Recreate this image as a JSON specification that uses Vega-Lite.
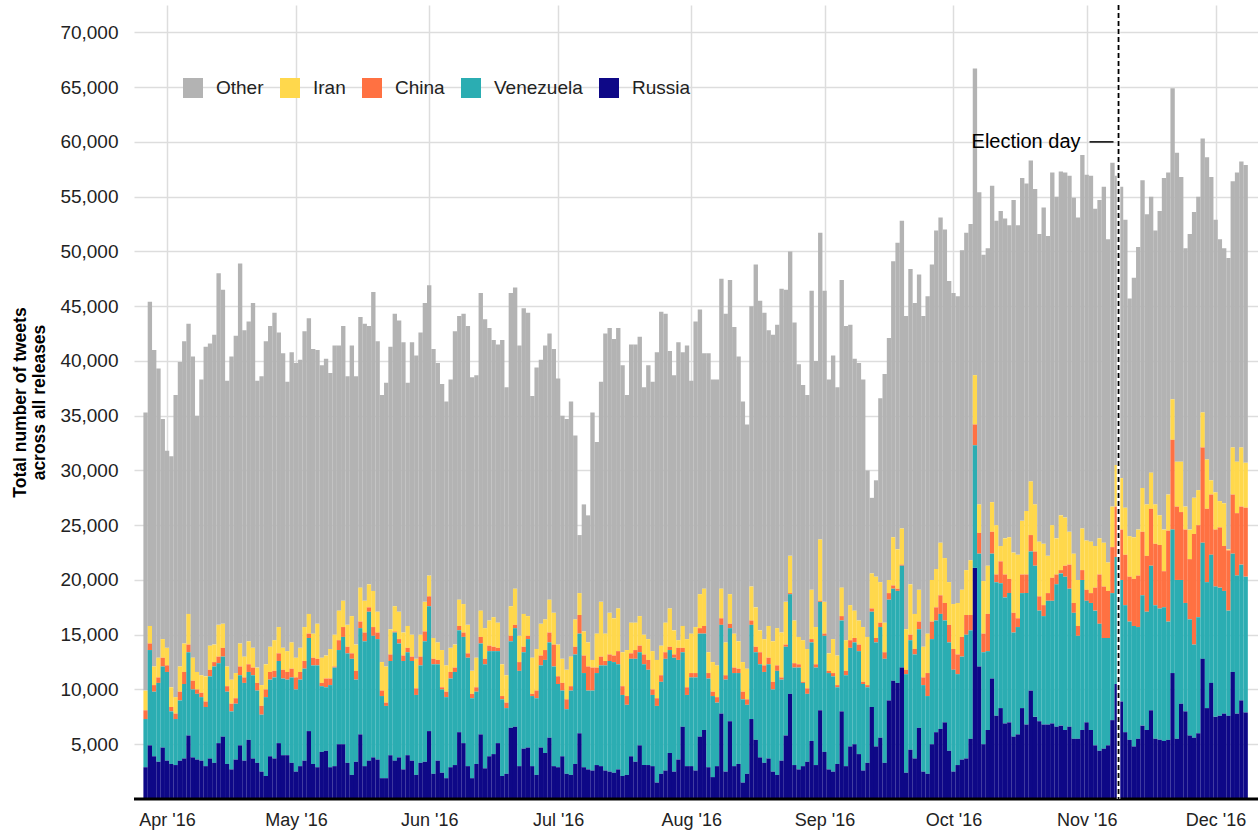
{
  "$schema": "https://vega.github.io/schema/vega-lite/v6.json",
  "width": 1124,
  "height": 794,
  "autosize": {"type": "none"},
  "padding": {"left": 134, "top": 5, "right": 0, "bottom": 36},
  "background": "white",
  "config": {
    "font": "Liberation Sans",
    "view": {"stroke": null}
  },
  "layer": [
    {
      "data": {"values": [
{"d":"2016-03-27","Russia":2900,"Venezuela":4400,"China":800,"Iran":1800,"Other":25400},
{"d":"2016-03-28","Russia":4900,"Venezuela":8700,"China":600,"Iran":1600,"Other":29600},
{"d":"2016-03-29","Russia":3900,"Venezuela":5900,"China":600,"Iran":1700,"Other":28900},
{"d":"2016-03-30","Russia":3400,"Venezuela":7200,"China":500,"Iran":1800,"Other":26400},
{"d":"2016-03-31","Russia":4700,"Venezuela":7400,"China":800,"Iran":1700,"Other":20100},
{"d":"2016-04-01","Russia":3500,"Venezuela":8100,"China":600,"Iran":1600,"Other":18000},
{"d":"2016-04-02","Russia":3200,"Venezuela":4800,"China":400,"Iran":1800,"Other":21100},
{"d":"2016-04-03","Russia":3100,"Venezuela":4200,"China":500,"Iran":1500,"Other":27600},
{"d":"2016-04-04","Russia":3500,"Venezuela":5500,"China":800,"Iran":2300,"Other":27800},
{"d":"2016-04-05","Russia":3700,"Venezuela":6800,"China":1100,"Iran":2600,"Other":27600},
{"d":"2016-04-06","Russia":5800,"Venezuela":7600,"China":700,"Iran":2800,"Other":26500},
{"d":"2016-04-07","Russia":3800,"Venezuela":6200,"China":800,"Iran":2100,"Other":27500},
{"d":"2016-04-08","Russia":3600,"Venezuela":6000,"China":400,"Iran":1600,"Other":23400},
{"d":"2016-04-09","Russia":3500,"Venezuela":5800,"China":400,"Iran":1600,"Other":27000},
{"d":"2016-04-10","Russia":3000,"Venezuela":5400,"China":500,"Iran":2300,"Other":30100},
{"d":"2016-04-11","Russia":3700,"Venezuela":7500,"China":600,"Iran":2200,"Other":27600},
{"d":"2016-04-12","Russia":3300,"Venezuela":8800,"China":400,"Iran":1600,"Other":28300},
{"d":"2016-04-13","Russia":5100,"Venezuela":7300,"China":600,"Iran":2900,"Other":32100},
{"d":"2016-04-14","Russia":5700,"Venezuela":7300,"China":800,"Iran":2200,"Other":30500},
{"d":"2016-04-15","Russia":3200,"Venezuela":6600,"China":500,"Iran":1800,"Other":26100},
{"d":"2016-04-16","Russia":2700,"Venezuela":5300,"China":700,"Iran":2200,"Other":29500},
{"d":"2016-04-17","Russia":3600,"Venezuela":5100,"China":500,"Iran":2300,"Other":30800},
{"d":"2016-04-18","Russia":4900,"Venezuela":6400,"China":800,"Iran":2100,"Other":34700},
{"d":"2016-04-19","Russia":3500,"Venezuela":7100,"China":500,"Iran":1900,"Other":29800},
{"d":"2016-04-20","Russia":5400,"Venezuela":6200,"China":700,"Iran":2100,"Other":29200},
{"d":"2016-04-21","Russia":3700,"Venezuela":7600,"China":700,"Iran":1800,"Other":31500},
{"d":"2016-04-22","Russia":3300,"Venezuela":6600,"China":700,"Iran":1400,"Other":26200},
{"d":"2016-04-23","Russia":2500,"Venezuela":5200,"China":800,"Iran":1900,"Other":28200},
{"d":"2016-04-24","Russia":2100,"Venezuela":7200,"China":700,"Iran":2300,"Other":29500},
{"d":"2016-04-25","Russia":3900,"Venezuela":7000,"China":700,"Iran":2300,"Other":29300},
{"d":"2016-04-26","Russia":3700,"Venezuela":7400,"China":600,"Iran":2800,"Other":29900},
{"d":"2016-04-27","Russia":5100,"Venezuela":7500,"China":700,"Iran":2400,"Other":26900},
{"d":"2016-04-28","Russia":4000,"Venezuela":7000,"China":800,"Iran":2000,"Other":26900},
{"d":"2016-04-29","Russia":4000,"Venezuela":6900,"China":700,"Iran":1900,"Other":24600},
{"d":"2016-04-30","Russia":3300,"Venezuela":7800,"China":800,"Iran":2400,"Other":26500},
{"d":"2016-05-01","Russia":2500,"Venezuela":7500,"China":1100,"Iran":1800,"Other":26900},
{"d":"2016-05-02","Russia":3000,"Venezuela":7900,"China":700,"Iran":2200,"Other":26300},
{"d":"2016-05-03","Russia":3500,"Venezuela":8400,"China":700,"Iran":3100,"Other":27000},
{"d":"2016-05-04","Russia":6200,"Venezuela":8500,"China":400,"Iran":1800,"Other":27000},
{"d":"2016-05-05","Russia":3200,"Venezuela":9000,"China":700,"Iran":2200,"Other":26000},
{"d":"2016-05-06","Russia":2900,"Venezuela":9300,"China":600,"Iran":3200,"Other":25000},
{"d":"2016-05-07","Russia":4300,"Venezuela":6000,"China":300,"Iran":2300,"Other":26700},
{"d":"2016-05-08","Russia":4400,"Venezuela":5800,"China":800,"Iran":2100,"Other":27100},
{"d":"2016-05-09","Russia":2900,"Venezuela":7500,"China":600,"Iran":2700,"Other":25200},
{"d":"2016-05-10","Russia":3000,"Venezuela":9000,"China":100,"Iran":2900,"Other":26400},
{"d":"2016-05-11","Russia":5000,"Venezuela":8600,"China":900,"Iran":2700,"Other":24200},
{"d":"2016-05-12","Russia":5000,"Venezuela":9800,"China":900,"Iran":2400,"Other":25100},
{"d":"2016-05-13","Russia":3300,"Venezuela":10000,"China":600,"Iran":2000,"Other":22700},
{"d":"2016-05-14","Russia":2200,"Venezuela":10600,"China":500,"Iran":3400,"Other":24700},
{"d":"2016-05-15","Russia":3400,"Venezuela":7500,"China":800,"Iran":2400,"Other":24500},
{"d":"2016-05-16","Russia":5900,"Venezuela":9700,"China":600,"Iran":3100,"Other":24700},
{"d":"2016-05-17","Russia":3000,"Venezuela":11400,"China":800,"Iran":2900,"Other":25300},
{"d":"2016-05-18","Russia":3500,"Venezuela":13600,"China":400,"Iran":2100,"Other":23600},
{"d":"2016-05-19","Russia":3800,"Venezuela":11100,"China":800,"Iran":3300,"Other":27300},
{"d":"2016-05-20","Russia":3600,"Venezuela":11000,"China":600,"Iran":1900,"Other":24700},
{"d":"2016-05-21","Russia":1900,"Venezuela":7500,"China":500,"Iran":2600,"Other":24400},
{"d":"2016-05-22","Russia":1900,"Venezuela":6600,"China":300,"Iran":3300,"Other":25900},
{"d":"2016-05-23","Russia":4000,"Venezuela":8600,"China":600,"Iran":2300,"Other":25800},
{"d":"2016-05-24","Russia":3500,"Venezuela":11700,"China":100,"Iran":2300,"Other":26700},
{"d":"2016-05-25","Russia":3800,"Venezuela":10400,"China":400,"Iran":2500,"Other":26600},
{"d":"2016-05-26","Russia":2700,"Venezuela":9900,"China":500,"Iran":2100,"Other":26500},
{"d":"2016-05-27","Russia":4000,"Venezuela":9400,"China":400,"Iran":2000,"Other":22200},
{"d":"2016-05-28","Russia":3500,"Venezuela":9100,"China":400,"Iran":2000,"Other":26700},
{"d":"2016-05-29","Russia":2200,"Venezuela":7300,"China":600,"Iran":2700,"Other":27700},
{"d":"2016-05-30","Russia":3300,"Venezuela":8900,"China":800,"Iran":2000,"Other":27600},
{"d":"2016-05-31","Russia":3400,"Venezuela":11000,"China":900,"Iran":2700,"Other":27300},
{"d":"2016-06-01","Russia":6200,"Venezuela":11400,"China":900,"Iran":1900,"Other":26500},
{"d":"2016-06-02","Russia":2300,"Venezuela":10000,"China":500,"Iran":1900,"Other":26400},
{"d":"2016-06-03","Russia":3500,"Venezuela":8800,"China":400,"Iran":1600,"Other":25500},
{"d":"2016-06-04","Russia":2400,"Venezuela":7600,"China":200,"Iran":3400,"Other":24300},
{"d":"2016-06-05","Russia":1900,"Venezuela":7400,"China":500,"Iran":2400,"Other":24100},
{"d":"2016-06-06","Russia":2900,"Venezuela":8100,"China":600,"Iran":2200,"Other":24500},
{"d":"2016-06-07","Russia":3100,"Venezuela":8500,"China":400,"Iran":2100,"Other":28600},
{"d":"2016-06-08","Russia":6100,"Venezuela":9300,"China":400,"Iran":2400,"Other":25900},
{"d":"2016-06-09","Russia":5100,"Venezuela":9700,"China":400,"Iran":2600,"Other":26500},
{"d":"2016-06-10","Russia":3000,"Venezuela":9900,"China":400,"Iran":2600,"Other":27300},
{"d":"2016-06-11","Russia":1900,"Venezuela":7300,"China":400,"Iran":2100,"Other":26800},
{"d":"2016-06-12","Russia":3200,"Venezuela":6600,"China":400,"Iran":2700,"Other":25800},
{"d":"2016-06-13","Russia":5900,"Venezuela":8300,"China":600,"Iran":2400,"Other":29000},
{"d":"2016-06-14","Russia":2800,"Venezuela":9500,"China":500,"Iran":2800,"Other":28200},
{"d":"2016-06-15","Russia":3900,"Venezuela":9600,"China":500,"Iran":2300,"Other":26700},
{"d":"2016-06-16","Russia":4100,"Venezuela":9400,"China":400,"Iran":2700,"Other":25300},
{"d":"2016-06-17","Russia":5100,"Venezuela":8400,"China":300,"Iran":2300,"Other":25400},
{"d":"2016-06-18","Russia":2100,"Venezuela":7000,"China":300,"Iran":2900,"Other":29600},
{"d":"2016-06-19","Russia":2300,"Venezuela":6000,"China":500,"Iran":2500,"Other":26300},
{"d":"2016-06-20","Russia":6500,"Venezuela":7900,"China":500,"Iran":2700,"Other":28600},
{"d":"2016-06-21","Russia":6600,"Venezuela":9000,"China":300,"Iran":3300,"Other":27500},
{"d":"2016-06-22","Russia":3000,"Venezuela":8700,"China":800,"Iran":2400,"Other":26500},
{"d":"2016-06-23","Russia":4600,"Venezuela":8800,"China":500,"Iran":3000,"Other":27900},
{"d":"2016-06-24","Russia":4700,"Venezuela":9900,"China":300,"Iran":1800,"Other":27700},
{"d":"2016-06-25","Russia":3000,"Venezuela":6400,"China":200,"Iran":3300,"Other":23900},
{"d":"2016-06-26","Russia":2200,"Venezuela":7000,"China":700,"Iran":3800,"Other":25700},
{"d":"2016-06-27","Russia":4700,"Venezuela":7500,"China":900,"Iran":2900,"Other":24100},
{"d":"2016-06-28","Russia":4200,"Venezuela":8500,"China":900,"Iran":2800,"Other":25000},
{"d":"2016-06-29","Russia":5600,"Venezuela":8700,"China":900,"Iran":3000,"Other":24300},
{"d":"2016-06-30","Russia":3000,"Venezuela":9100,"China":2000,"Iran":2900,"Other":24100},
{"d":"2016-07-01","Russia":2900,"Venezuela":7600,"China":700,"Iran":2900,"Other":24300},
{"d":"2016-07-02","Russia":3900,"Venezuela":6000,"China":700,"Iran":2200,"Other":22200},
{"d":"2016-07-03","Russia":2300,"Venezuela":5900,"China":900,"Iran":2700,"Other":22900},
{"d":"2016-07-04","Russia":2200,"Venezuela":7700,"China":400,"Iran":2700,"Other":23300},
{"d":"2016-07-05","Russia":3200,"Venezuela":10000,"China":700,"Iran":2500,"Other":16800},
{"d":"2016-07-06","Russia":6000,"Venezuela":9100,"China":1700,"Iran":2000,"Other":5300},
{"d":"2016-07-07","Russia":2900,"Venezuela":8600,"China":1600,"Iran":2200,"Other":11600},
{"d":"2016-07-08","Russia":2700,"Venezuela":7200,"China":2200,"Iran":2200,"Other":11600},
{"d":"2016-07-09","Russia":2600,"Venezuela":7300,"China":2100,"Iran":700,"Other":22600},
{"d":"2016-07-10","Russia":3100,"Venezuela":8400,"China":500,"Iran":3100,"Other":17500},
{"d":"2016-07-11","Russia":3000,"Venezuela":9200,"China":800,"Iran":5000,"Other":20100},
{"d":"2016-07-12","Russia":2600,"Venezuela":9600,"China":400,"Iran":2500,"Other":27400},
{"d":"2016-07-13","Russia":2500,"Venezuela":10100,"China":600,"Iran":3800,"Other":26000},
{"d":"2016-07-14","Russia":2400,"Venezuela":10100,"China":600,"Iran":3400,"Other":25500},
{"d":"2016-07-15","Russia":2700,"Venezuela":9600,"China":1200,"Iran":3900,"Other":25600},
{"d":"2016-07-16","Russia":2100,"Venezuela":7400,"China":800,"Iran":3100,"Other":26200},
{"d":"2016-07-17","Russia":2200,"Venezuela":6400,"China":800,"Iran":4200,"Other":23300},
{"d":"2016-07-18","Russia":3900,"Venezuela":8900,"China":500,"Iran":2800,"Other":25400},
{"d":"2016-07-19","Russia":3400,"Venezuela":9400,"China":800,"Iran":2500,"Other":25400},
{"d":"2016-07-20","Russia":4900,"Venezuela":8500,"China":600,"Iran":2700,"Other":25500},
{"d":"2016-07-21","Russia":3100,"Venezuela":9200,"China":900,"Iran":1800,"Other":22600},
{"d":"2016-07-22","Russia":3100,"Venezuela":8700,"China":900,"Iran":1900,"Other":25000},
{"d":"2016-07-23","Russia":3000,"Venezuela":6500,"China":500,"Iran":3500,"Other":24600},
{"d":"2016-07-24","Russia":1500,"Venezuela":7000,"China":700,"Iran":3500,"Other":28100},
{"d":"2016-07-25","Russia":2300,"Venezuela":8400,"China":600,"Iran":2700,"Other":30500},
{"d":"2016-07-26","Russia":2600,"Venezuela":10200,"China":600,"Iran":2700,"Other":28200},
{"d":"2016-07-27","Russia":4200,"Venezuela":9400,"China":300,"Iran":3500,"Other":23500},
{"d":"2016-07-28","Russia":2500,"Venezuela":10400,"China":300,"Iran":2200,"Other":23300},
{"d":"2016-07-29","Russia":3600,"Venezuela":9100,"China":1100,"Iran":700,"Other":27200},
{"d":"2016-07-30","Russia":6600,"Venezuela":6800,"China":400,"Iran":2000,"Other":25000},
{"d":"2016-07-31","Russia":3000,"Venezuela":6500,"China":700,"Iran":4400,"Other":26800},
{"d":"2016-08-01","Russia":3000,"Venezuela":8100,"China":400,"Iran":3600,"Other":23100},
{"d":"2016-08-02","Russia":2600,"Venezuela":8500,"China":400,"Iran":4200,"Other":27900},
{"d":"2016-08-03","Russia":5700,"Venezuela":9400,"China":500,"Iran":3100,"Other":26000},
{"d":"2016-08-04","Russia":6300,"Venezuela":8800,"China":700,"Iran":3400,"Other":21500},
{"d":"2016-08-05","Russia":2900,"Venezuela":8100,"China":500,"Iran":1900,"Other":27300},
{"d":"2016-08-06","Russia":2000,"Venezuela":7400,"China":400,"Iran":2700,"Other":25800},
{"d":"2016-08-07","Russia":3000,"Venezuela":5800,"China":500,"Iran":2900,"Other":26100},
{"d":"2016-08-08","Russia":7800,"Venezuela":8100,"China":600,"Iran":2700,"Other":28300},
{"d":"2016-08-09","Russia":2500,"Venezuela":8400,"China":400,"Iran":3000,"Other":30000},
{"d":"2016-08-10","Russia":7100,"Venezuela":8500,"China":400,"Iran":2700,"Other":28700},
{"d":"2016-08-11","Russia":3000,"Venezuela":8500,"China":500,"Iran":3100,"Other":28000},
{"d":"2016-08-12","Russia":3200,"Venezuela":8300,"China":400,"Iran":2500,"Other":26000},
{"d":"2016-08-13","Russia":1500,"Venezuela":7600,"China":700,"Iran":2700,"Other":23800},
{"d":"2016-08-14","Russia":2300,"Venezuela":6300,"China":500,"Iran":2800,"Other":22300},
{"d":"2016-08-15","Russia":7300,"Venezuela":8600,"China":400,"Iran":3100,"Other":25600},
{"d":"2016-08-16","Russia":5400,"Venezuela":8000,"China":500,"Iran":3600,"Other":31300},
{"d":"2016-08-17","Russia":3800,"Venezuela":8500,"China":1100,"Iran":2000,"Other":30100},
{"d":"2016-08-18","Russia":3300,"Venezuela":8300,"China":600,"Iran":2400,"Other":29800},
{"d":"2016-08-19","Russia":3700,"Venezuela":8600,"China":600,"Iran":2900,"Other":27000},
{"d":"2016-08-20","Russia":2500,"Venezuela":7500,"China":700,"Iran":3700,"Other":28000},
{"d":"2016-08-21","Russia":2200,"Venezuela":9500,"China":500,"Iran":3400,"Other":27700},
{"d":"2016-08-22","Russia":3500,"Venezuela":7400,"China":200,"Iran":4100,"Other":31400},
{"d":"2016-08-23","Russia":5800,"Venezuela":8100,"China":200,"Iran":3900,"Other":28500},
{"d":"2016-08-24","Russia":9600,"Venezuela":9100,"China":100,"Iran":3400,"Other":27800},
{"d":"2016-08-25","Russia":3100,"Venezuela":8900,"China":400,"Iran":3900,"Other":27200},
{"d":"2016-08-26","Russia":2700,"Venezuela":9300,"China":300,"Iran":2500,"Other":24900},
{"d":"2016-08-27","Russia":3000,"Venezuela":7600,"China":100,"Iran":3800,"Other":23300},
{"d":"2016-08-28","Russia":3400,"Venezuela":6200,"China":500,"Iran":3600,"Other":23200},
{"d":"2016-08-29","Russia":5300,"Venezuela":9000,"China":300,"Iran":4500,"Other":27300},
{"d":"2016-08-30","Russia":3100,"Venezuela":8900,"China":300,"Iran":3400,"Other":24300},
{"d":"2016-08-31","Russia":8100,"Venezuela":9900,"China":100,"Iran":5600,"Other":28000},
{"d":"2016-09-01","Russia":4300,"Venezuela":10600,"China":200,"Iran":2900,"Other":28400},
{"d":"2016-09-02","Russia":2700,"Venezuela":8800,"China":200,"Iran":1600,"Other":25000},
{"d":"2016-09-03","Russia":2500,"Venezuela":8700,"China":300,"Iran":3100,"Other":25900},
{"d":"2016-09-04","Russia":3200,"Venezuela":7000,"China":200,"Iran":2700,"Other":24500},
{"d":"2016-09-05","Russia":8000,"Venezuela":8300,"China":400,"Iran":2600,"Other":28100},
{"d":"2016-09-06","Russia":3000,"Venezuela":8300,"China":400,"Iran":2800,"Other":28700},
{"d":"2016-09-07","Russia":4800,"Venezuela":9000,"China":700,"Iran":3200,"Other":25600},
{"d":"2016-09-08","Russia":5000,"Venezuela":9300,"China":400,"Iran":2500,"Other":23000},
{"d":"2016-09-09","Russia":4100,"Venezuela":9400,"China":600,"Iran":2200,"Other":23500},
{"d":"2016-09-10","Russia":2600,"Venezuela":7900,"China":200,"Iran":5000,"Other":22600},
{"d":"2016-09-11","Russia":3300,"Venezuela":6900,"China":200,"Iran":4400,"Other":15200},
{"d":"2016-09-12","Russia":8400,"Venezuela":8700,"China":300,"Iran":3200,"Other":6900},
{"d":"2016-09-13","Russia":4800,"Venezuela":9500,"China":400,"Iran":5600,"Other":8800},
{"d":"2016-09-14","Russia":5600,"Venezuela":10100,"China":400,"Iran":3700,"Other":16800},
{"d":"2016-09-15","Russia":3300,"Venezuela":9500,"China":600,"Iran":2700,"Other":22700},
{"d":"2016-09-16","Russia":9000,"Venezuela":9200,"China":600,"Iran":1200,"Other":22100},
{"d":"2016-09-17","Russia":10800,"Venezuela":8400,"China":300,"Iran":4400,"Other":25200},
{"d":"2016-09-18","Russia":10600,"Venezuela":8400,"China":200,"Iran":3600,"Other":28000},
{"d":"2016-09-19","Russia":12000,"Venezuela":9300,"China":100,"Iran":3300,"Other":28100},
{"d":"2016-09-20","Russia":2400,"Venezuela":9000,"China":400,"Iran":3700,"Other":28600},
{"d":"2016-09-21","Russia":4500,"Venezuela":10000,"China":500,"Iran":4600,"Other":28800},
{"d":"2016-09-22","Russia":3700,"Venezuela":9500,"China":500,"Iran":3200,"Other":28400},
{"d":"2016-09-23","Russia":6500,"Venezuela":9000,"China":700,"Iran":2900,"Other":28800},
{"d":"2016-09-24","Russia":2500,"Venezuela":7900,"China":700,"Iran":2800,"Other":30200},
{"d":"2016-09-25","Russia":2300,"Venezuela":7100,"China":2100,"Iran":3600,"Other":30800},
{"d":"2016-09-26","Russia":5000,"Venezuela":9600,"China":1600,"Iran":3800,"Other":28800},
{"d":"2016-09-27","Russia":6100,"Venezuela":10200,"China":1200,"Iran":3500,"Other":30900},
{"d":"2016-09-28","Russia":6400,"Venezuela":10500,"China":1700,"Iran":4800,"Other":29700},
{"d":"2016-09-29","Russia":7000,"Venezuela":9300,"China":1600,"Iran":4100,"Other":30000},
{"d":"2016-09-30","Russia":4400,"Venezuela":9900,"China":1600,"Iran":3900,"Other":27500},
{"d":"2016-10-01","Russia":2500,"Venezuela":9300,"China":1900,"Iran":4100,"Other":28400},
{"d":"2016-10-02","Russia":3100,"Venezuela":8300,"China":1800,"Iran":4700,"Other":28000},
{"d":"2016-10-03","Russia":3600,"Venezuela":9400,"China":1800,"Iran":4300,"Other":31000},
{"d":"2016-10-04","Russia":3700,"Venezuela":11300,"China":1800,"Iran":4100,"Other":30800},
{"d":"2016-10-05","Russia":5500,"Venezuela":9900,"China":1400,"Iran":5000,"Other":30700},
{"d":"2016-10-06","Russia":21100,"Venezuela":11200,"China":1900,"Iran":4500,"Other":28000},
{"d":"2016-10-07","Russia":12100,"Venezuela":10300,"China":1900,"Iran":2600,"Other":28500},
{"d":"2016-10-08","Russia":5000,"Venezuela":8400,"China":1700,"Iran":4800,"Other":29800},
{"d":"2016-10-09","Russia":6300,"Venezuela":7200,"China":3400,"Iran":4400,"Other":29000},
{"d":"2016-10-10","Russia":11000,"Venezuela":11400,"China":2000,"Iran":2700,"Other":28900},
{"d":"2016-10-11","Russia":7600,"Venezuela":12200,"China":700,"Iran":4500,"Other":27800},
{"d":"2016-10-12","Russia":8300,"Venezuela":11400,"China":2000,"Iran":1400,"Other":30600},
{"d":"2016-10-13","Russia":6900,"Venezuela":11500,"China":2100,"Iran":3300,"Other":29200},
{"d":"2016-10-14","Russia":7000,"Venezuela":11800,"China":1300,"Iran":3800,"Other":28500},
{"d":"2016-10-15","Russia":5700,"Venezuela":9500,"China":1800,"Iran":5500,"Other":32200},
{"d":"2016-10-16","Russia":5900,"Venezuela":9800,"China":800,"Iran":5800,"Other":30100},
{"d":"2016-10-17","Russia":8300,"Venezuela":10500,"China":1700,"Iran":4900,"Other":31300},
{"d":"2016-10-18","Russia":6800,"Venezuela":12000,"China":1700,"Iran":5800,"Other":29900},
{"d":"2016-10-19","Russia":9900,"Venezuela":12700,"China":1500,"Iran":4900,"Other":29300},
{"d":"2016-10-20","Russia":7500,"Venezuela":13800,"China":1300,"Iran":4300,"Other":28800},
{"d":"2016-10-21","Russia":7100,"Venezuela":10100,"China":1300,"Iran":5000,"Other":28100},
{"d":"2016-10-22","Russia":6800,"Venezuela":9900,"China":1000,"Iran":5600,"Other":30700},
{"d":"2016-10-23","Russia":6800,"Venezuela":11300,"China":700,"Iran":3400,"Other":29200},
{"d":"2016-10-24","Russia":6900,"Venezuela":11200,"China":2100,"Iran":4800,"Other":32200},
{"d":"2016-10-25","Russia":6600,"Venezuela":13000,"China":900,"Iran":3300,"Other":31200},
{"d":"2016-10-26","Russia":6700,"Venezuela":13900,"China":300,"Iran":5000,"Other":31400},
{"d":"2016-10-27","Russia":6300,"Venezuela":14000,"China":1000,"Iran":4400,"Other":31500},
{"d":"2016-10-28","Russia":6600,"Venezuela":12600,"China":2200,"Iran":3000,"Other":32500},
{"d":"2016-10-29","Russia":5500,"Venezuela":11500,"China":900,"Iran":4500,"Other":32500},
{"d":"2016-10-30","Russia":5500,"Venezuela":9400,"China":900,"Iran":4200,"Other":33100},
{"d":"2016-10-31","Russia":6300,"Venezuela":13700,"China":900,"Iran":3800,"Other":34100},
{"d":"2016-11-01","Russia":7000,"Venezuela":11100,"China":1000,"Iran":4500,"Other":33400},
{"d":"2016-11-02","Russia":6300,"Venezuela":11600,"China":900,"Iran":4700,"Other":33400},
{"d":"2016-11-03","Russia":4900,"Venezuela":12300,"China":2100,"Iran":3800,"Other":30800},
{"d":"2016-11-04","Russia":4400,"Venezuela":11600,"China":4500,"Iran":3300,"Other":30900},
{"d":"2016-11-05","Russia":4600,"Venezuela":10100,"China":4700,"Iran":4000,"Other":32500},
{"d":"2016-11-06","Russia":4900,"Venezuela":9800,"China":4300,"Iran":2600,"Other":29500},
{"d":"2016-11-07","Russia":7200,"Venezuela":11600,"China":4200,"Iran":3700,"Other":31400},
{"d":"2016-11-08","Russia":10500,"Venezuela":11600,"China":4600,"Iran":3800,"Other":26400},
{"d":"2016-11-09","Russia":8900,"Venezuela":11100,"China":4600,"Iran":4700,"Other":26600},
{"d":"2016-11-10","Russia":6100,"Venezuela":11600,"China":4600,"Iran":4300,"Other":26300},
{"d":"2016-11-11","Russia":5400,"Venezuela":10800,"China":4100,"Iran":3700,"Other":21700},
{"d":"2016-11-12","Russia":4800,"Venezuela":11000,"China":4300,"Iran":3800,"Other":23700},
{"d":"2016-11-13","Russia":5500,"Venezuela":10200,"China":4700,"Iran":4200,"Other":25800},
{"d":"2016-11-14","Russia":6700,"Venezuela":11900,"China":5800,"Iran":4000,"Other":28100},
{"d":"2016-11-15","Russia":6300,"Venezuela":10800,"China":5100,"Iran":4700,"Other":26500},
{"d":"2016-11-16","Russia":8100,"Venezuela":13200,"China":5200,"Iran":3300,"Other":25200},
{"d":"2016-11-17","Russia":5500,"Venezuela":12200,"China":5600,"Iran":3600,"Other":25000},
{"d":"2016-11-18","Russia":5400,"Venezuela":12000,"China":5800,"Iran":2700,"Other":27800},
{"d":"2016-11-19","Russia":5300,"Venezuela":12200,"China":3300,"Iran":3800,"Other":32100},
{"d":"2016-11-20","Russia":5400,"Venezuela":10800,"China":8300,"Iran":3300,"Other":29400},
{"d":"2016-11-21","Russia":11500,"Venezuela":13100,"China":8200,"Iran":3700,"Other":28400},
{"d":"2016-11-22","Russia":5500,"Venezuela":14500,"China":6700,"Iran":4100,"Other":28200},
{"d":"2016-11-23","Russia":8700,"Venezuela":11300,"China":6200,"Iran":4600,"Other":26000},
{"d":"2016-11-24","Russia":8000,"Venezuela":9900,"China":6700,"Iran":2100,"Other":23600},
{"d":"2016-11-25","Russia":5800,"Venezuela":10600,"China":5500,"Iran":2700,"Other":27000},
{"d":"2016-11-26","Russia":5600,"Venezuela":8500,"China":10100,"Iran":3300,"Other":26100},
{"d":"2016-11-27","Russia":6000,"Venezuela":10600,"China":8400,"Iran":3200,"Other":26800},
{"d":"2016-11-28","Russia":12800,"Venezuela":10600,"China":8700,"Iran":3200,"Other":25000},
{"d":"2016-11-29","Russia":8300,"Venezuela":11500,"China":6700,"Iran":4500,"Other":27600},
{"d":"2016-11-30","Russia":10600,"Venezuela":11700,"China":5500,"Iran":1300,"Other":27700},
{"d":"2016-12-01","Russia":7500,"Venezuela":11900,"China":5200,"Iran":3400,"Other":24900},
{"d":"2016-12-02","Russia":7600,"Venezuela":11700,"China":5500,"Iran":2400,"Other":23900},
{"d":"2016-12-03","Russia":7800,"Venezuela":11200,"China":4100,"Iran":3900,"Other":23300},
{"d":"2016-12-04","Russia":7600,"Venezuela":9600,"China":5500,"Iran":100,"Other":26600},
{"d":"2016-12-05","Russia":11600,"Venezuela":10800,"China":5400,"Iran":4300,"Other":24300},
{"d":"2016-12-06","Russia":7800,"Venezuela":12600,"China":5700,"Iran":4700,"Other":26400},
{"d":"2016-12-07","Russia":9000,"Venezuela":12400,"China":5300,"Iran":5400,"Other":26100},
{"d":"2016-12-08","Russia":7900,"Venezuela":12400,"China":6300,"Iran":4100,"Other":27200}
      ]},
      "transform": [
        {"fold": ["Other", "Iran", "China", "Venezuela", "Russia"], "as": ["country", "tweets"]},
        {"lookup": "country", "from": {"data": {"values": [
          {"country": "Russia", "layer": 1},
          {"country": "Venezuela", "layer": 2},
          {"country": "China", "layer": 3},
          {"country": "Iran", "layer": 4},
          {"country": "Other", "layer": 5}
        ]}, "key": "country", "fields": ["layer"]}}
      ],
      "mark": {"type": "bar", "width": 4.36},
      "encoding": {
        "x": {
          "field": "d",
          "type": "temporal",
          "scale": {
            "type": "utc",
            "domain": [
              {"year": 2016, "month": 3, "date": 25, "hours": 11, "minutes": 15, "utc": true},
              {"year": 2016, "month": 12, "date": 9, "hours": 17, "utc": true}
            ],
            "nice": false
          },
          "axis": {
            "title": null,
            "values": [
              {"year": 2016, "month": 4, "date": 1, "utc": true},
              {"year": 2016, "month": 5, "date": 1, "utc": true},
              {"year": 2016, "month": 6, "date": 1, "utc": true},
              {"year": 2016, "month": 7, "date": 1, "utc": true},
              {"year": 2016, "month": 8, "date": 1, "utc": true},
              {"year": 2016, "month": 9, "date": 1, "utc": true},
              {"year": 2016, "month": 10, "date": 1, "utc": true},
              {"year": 2016, "month": 11, "date": 1, "utc": true},
              {"year": 2016, "month": 12, "date": 1, "utc": true}
            ],
            "labelExpr": "utcFormat(datum.value, \"%b '%y\")",
            "domain": false,
            "ticks": false,
            "grid": true,
            "gridColor": "#dddddd",
            "gridWidth": 1.5,
            "labelFontSize": 18,
            "labelColor": "#222222",
            "labelPadding": 12,
            "labelFlush": false,
            "labelOverlap": false
          }
        },
        "y": {
          "field": "tweets",
          "type": "quantitative",
          "stack": "zero",
          "scale": {"domain": [0, 72500], "nice": false},
          "axis": {
            "title": ["Total number of tweets", "across all releases"],
            "titleFontSize": 17.5,
            "titleFontWeight": "bold",
            "titleColor": "#000000",
            "titleLineHeight": 19,
            "titlePadding": 11,
            "values": [5000, 10000, 15000, 20000, 25000, 30000, 35000, 40000, 45000, 50000, 55000, 60000, 65000, 70000],
            "format": ",.0f",
            "domain": false,
            "ticks": false,
            "grid": true,
            "gridColor": "#dddddd",
            "gridWidth": 1.5,
            "labelFontSize": 19,
            "labelColor": "#222222",
            "labelPadding": 16
          }
        },
        "order": {"field": "layer", "type": "quantitative", "sort": "ascending"},
        "color": {
          "field": "country",
          "type": "nominal",
          "scale": {
            "domain": ["Other", "Iran", "China", "Venezuela", "Russia"],
            "range": ["#b3b3b3", "#ffd84c", "#ff7142", "#2badb2", "#0e0887"]
          },
          "legend": {
            "title": null,
            "orient": "none",
            "legendX": 49,
            "legendY": 73,
            "direction": "horizontal",
            "symbolType": "square",
            "symbolSize": 400,
            "symbolStrokeWidth": 0,
            "symbolOpacity": 1,
            "labelFontSize": 19,
            "labelColor": "#222222",
            "labelOffset": 13,
            "columnPadding": 16,
            "padding": 0
          }
        }
      }
    },
    {
      "data": {"values": [{"base": 0}]},
      "mark": {"type": "rule", "color": "#000000", "strokeWidth": 3},
      "encoding": {"y": {"field": "base", "type": "quantitative"}}
    },
    {
      "data": {"values": [{"event": "Election day", "when": "2016-11-08T10:00:00Z"}]},
      "mark": {"type": "rule", "color": "#ffffff", "strokeWidth": 3.5},
      "encoding": {"x": {"field": "when", "type": "temporal"}}
    },
    {
      "data": {"values": [{"event": "Election day", "when": "2016-11-08T10:00:00Z"}]},
      "mark": {"type": "rule", "color": "#000000", "strokeWidth": 1.8, "strokeDash": [5, 3]},
      "encoding": {"x": {"field": "when", "type": "temporal"}}
    },
    {
      "data": {"values": [{"label": "Election day", "start": "2016-11-01T16:00:00Z", "end": "2016-11-07T06:00:00Z", "level": 60000}]},
      "layer": [
        {
          "mark": {"type": "rule", "color": "#000000", "strokeWidth": 1.5},
          "encoding": {
            "x": {"field": "start", "type": "temporal"},
            "x2": {"field": "end"},
            "y": {"field": "level", "type": "quantitative"}
          }
        },
        {
          "mark": {"type": "text", "align": "right", "baseline": "middle", "dx": -9, "fontSize": 20, "color": "#000000"},
          "encoding": {
            "x": {"field": "start", "type": "temporal"},
            "y": {"field": "level", "type": "quantitative"},
            "text": {"field": "label"}
          }
        }
      ]
    }
  ]
}
